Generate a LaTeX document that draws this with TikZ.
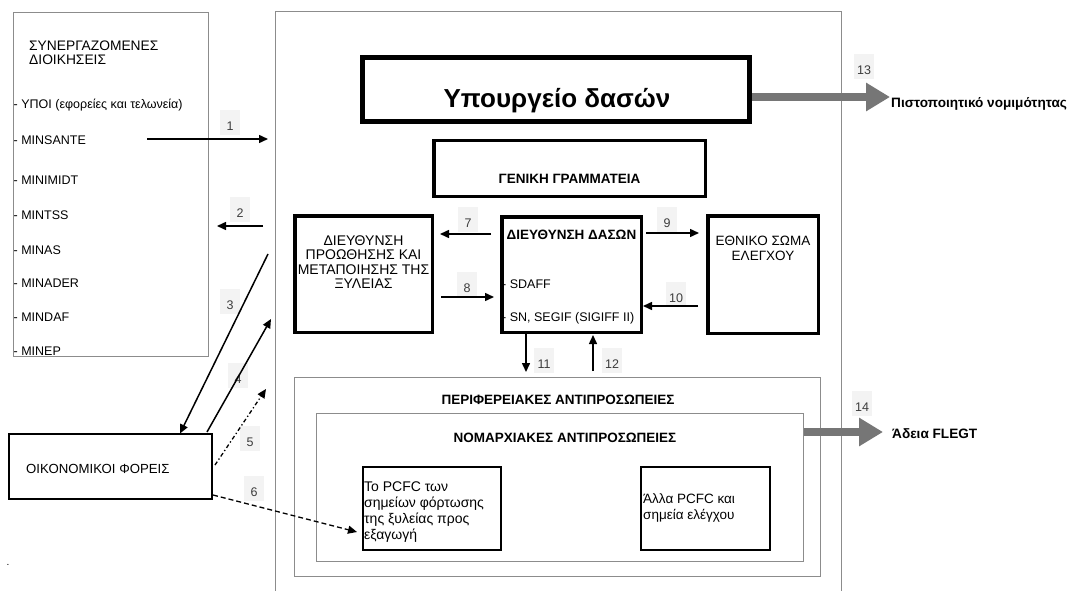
\documentclass[tikz,border=0pt]{standalone}
\usepackage{fontspec}
\setmainfont{Liberation Sans}
\usetikzlibrary{arrows.meta}
\definecolor{boxgray}{RGB}{140,140,140}
\definecolor{arrgray}{RGB}{118,118,118}
\definecolor{labgray}{RGB}{243,243,243}
\definecolor{numgray}{RGB}{60,60,60}
\begin{document}
\begin{tikzpicture}[x=1pt,y=-1pt,
  box/.style={rectangle, inner sep=0pt, outer sep=0pt},
  thinbox/.style={box, draw=boxgray, line width=1pt},
  heavybox/.style={box, draw=black, line width=3.5pt},
  plainbox/.style={box, draw=black, line width=1.8pt},
  conn/.style={draw=black, line width=1.5pt, -{Triangle[length=9pt,width=8pt]}},
  bigarrow/.style={draw=arrgray, line width=8pt, -{Triangle[length=24pt,width=27pt]}},
  numlab/.style={fill=labgray, text=numgray, font=\fontsize{12.5}{13}\selectfont, inner sep=1pt, minimum width=20pt, text height=20pt, text depth=3pt, anchor=base},
  txt/.style={inner sep=0pt, font=\fontsize{13.5}{14.3}\selectfont},
  btxt/.style={inner sep=0pt, font=\fontsize{13.5}{14.3}\selectfont\bfseries},
  lst/.style={inner sep=0pt, anchor=base west, font=\fontsize{12.5}{13}\selectfont},
]
\useasboundingbox (0,0) rectangle (1071,591);
\fill[white] (0,0) rectangle (1071,591);

% boxes
\node[thinbox, minimum width=195pt, minimum height=344pt] (left) at (111,184.5) {};
\node[thinbox, minimum width=566pt, minimum height=583pt] (big) at (558.5,303) {};
\node[box, draw=black, line width=5pt, minimum width=387pt, minimum height=64pt] (ypo) at (556,89.5) {};
\node[heavybox, minimum width=271.5pt, minimum height=55.5pt] (gen) at (569.5,168.5) {};
\node[heavybox, minimum width=137.5pt, minimum height=116.5pt] (dpr) at (363.5,274) {};
\node[heavybox, minimum width=139.5pt, minimum height=115.5pt] (dda) at (571.5,274.5) {};
\node[heavybox, minimum width=110.5pt, minimum height=117.5pt] (eth) at (763,274.5) {};
\node[thinbox, minimum width=526pt, minimum height=199pt] (per) at (557.5,477) {};
\node[thinbox, minimum width=487pt, minimum height=148pt] (nom) at (560,487.5) {};
\node[plainbox, minimum width=138.2pt, minimum height=83.2pt] (pcfc) at (432,508.5) {};
\node[plainbox, minimum width=129.2pt, minimum height=83.2pt] (alla) at (705.5,508.5) {};
\node[plainbox, minimum width=203.2pt, minimum height=65.2pt] (oik) at (110.5,466.5) {};

% texts in left box
\node[lst, font=\fontsize{13.8}{14}\selectfont] (h1) at (29,51) {ΣΥΝΕΡΓΑΖΟΜΕΝΕΣ};
\node[lst, font=\fontsize{13.8}{14}\selectfont] (h2) at (29,65) {ΔΙΟΙΚΗΣΕΙΣ};
\node[lst] (l1) at (13.5,109) {- ΥΠΟΙ (εφορείες και τελωνεία)};
\node[lst] (l2) at (13.5,144.5) {- MINSANTE};
\node[lst] (l3) at (13.5,185) {- MINIMIDT};
\node[lst] (l4) at (13.5,219.5) {- MINTSS};
\node[lst] (l5) at (13.5,254) {- MINAS};
\node[lst] (l6) at (13.5,287) {- MINADER};
\node[lst] (l7) at (13.5,321.5) {- MINDAF};
\node[lst] (l8) at (13.5,355) {- MINEP};

% texts in main boxes
\node[inner sep=0pt, anchor=base, font=\fontsize{26}{27}\selectfont\bfseries] (ypot) at (557,108) {Υπουργείο δασών};
\node[btxt, anchor=base] (gent) at (569.5,183) {ΓΕΝΙΚΗ ΓΡΑΜΜΑΤΕΙΑ};
\node[txt, align=center, font=\fontsize{14}{14.3}\selectfont] (dprt) at (363.5,262) {ΔΙΕΥΘΥΝΣΗ\\ΠΡΟΩΘΗΣΗΣ ΚΑΙ\\ΜΕΤΑΠΟΙΗΣΗΣ ΤΗΣ\\ΞΥΛΕΙΑΣ};
\node[btxt, anchor=base] (ddat) at (571.5,239) {ΔΙΕΥΘΥΝΣΗ ΔΑΣΩΝ};
\node[lst] (dd1) at (502,288.5) {- SDAFF};
\node[lst] (dd2) at (502,321.5) {- SN, SEGIF (SIGIFF II)};
\node[txt, align=center] (etht) at (763,248.5) {ΕΘΝΙΚΟ ΣΩΜΑ\\ΕΛΕΓΧΟΥ};
\node[btxt, anchor=base] (pert) at (558,404.5) {ΠΕΡΙΦΕΡΕΙΑΚΕΣ ΑΝΤΙΠΡΟΣΩΠΕΙΕΣ};
\node[btxt, anchor=base] (nomt) at (565,442.5) {ΝΟΜΑΡΧΙΑΚΕΣ ΑΝΤΙΠΡΟΣΩΠΕΙΕΣ};
\node[inner sep=0pt, anchor=north west, align=left, font=\fontsize{14}{15.7}\selectfont] (pcfct) at (364,482) {Το PCFC των\\σημείων φόρτωσης\\της ξυλείας προς\\εξαγωγή};
\node[inner sep=0pt, anchor=north west, align=left, font=\fontsize{13.5}{15.2}\selectfont] (allat) at (643,494) {Άλλα PCFC και\\σημεία ελέγχου};
\node[txt, anchor=base west, font=\fontsize{13.2}{14}\selectfont] (oikt) at (26,473) {ΟΙΚΟΝΟΜΙΚΟΙ ΦΟΡΕΙΣ};
\node[inner sep=0pt, font=\fontsize{10}{10}\selectfont] (dot) at (8,565) {.};

% outputs
\node[btxt, anchor=base west, font=\fontsize{13.6}{14}\selectfont\bfseries] (cert) at (891,108) {Πιστοποιητικό νομιμότητας};
\node[btxt, anchor=base west, font=\fontsize{13.6}{14}\selectfont\bfseries] (flegt) at (892,438.5) {Άδεια FLEGT};

% coordinates for connector ends
\coordinate (a1s) at (147,139);  \coordinate (a1e) at (268,139);
\coordinate (a2s) at (263,226);  \coordinate (a2e) at (217,226);
\coordinate (a3s) at (268,254);  \coordinate (a3e) at (180,433.5);
\coordinate (a4s) at (207,432);  \coordinate (a4e) at (271,319);
\coordinate (a5s) at (215,465);  \coordinate (a5e) at (266,389);
\coordinate (a6s) at (213,495);  \coordinate (a6e) at (357,532);
\coordinate (a7s) at (491,234);  \coordinate (a7e) at (440,234);
\coordinate (a8s) at (441,297);  \coordinate (a8e) at (494,297);
\coordinate (a9s) at (646,233);  \coordinate (a9e) at (699,233);
\coordinate (a10s) at (698,306); \coordinate (a10e) at (643,306);
\coordinate (a11s) at (526,334); \coordinate (a11e) at (526,372);
\coordinate (a12s) at (593,371); \coordinate (a12e) at (593,335);
\coordinate (a13s) at (752,97);  \coordinate (a13e) at (890,97);
\coordinate (a14s) at (804,432); \coordinate (a14e) at (883,432);

% number labels (drawn first so arrows sit on top)
\node[numlab] (n1) at (230,131) {1};
\node[numlab] (n2) at (240,217.5) {2};
\node[numlab] (n3) at (230,309.5) {3};
\node[numlab] (n4) at (238,383.5) {4};
\node[numlab] (n5) at (250,446.5) {5};
\node[numlab] (n6) at (254,496.5) {6};
\node[numlab] (n7) at (468,227.5) {7};
\node[numlab] (n8) at (467,292.5) {8};
\node[numlab] (n9) at (667,227.5) {9};
\node[numlab] (n10) at (676,302.5) {10};
\node[numlab] (n11) at (544,368.5) {11};
\node[numlab] (n12) at (612,368.5) {12};
\node[numlab] (n13) at (864,75) {13};
\node[numlab] (n14) at (862,411.5) {14};

% connectors
\draw[conn] (a1s) -- (a1e);
\draw[conn] (a2s) -- (a2e);
\draw[conn] (a3s) -- (a3e);
\draw[conn] (a4s) -- (a4e);
\draw[conn, line width=1.3pt, dash pattern=on 4pt off 2.5pt on 1.3pt off 2.5pt] (a5s) -- (a5e);
\draw[conn, line width=1.3pt, dash pattern=on 5pt off 3pt] (a6s) -- (a6e);
\draw[conn] (a7s) -- (a7e);
\draw[conn] (a8s) -- (a8e);
\draw[conn] (a9s) -- (a9e);
\draw[conn] (a10s) -- (a10e);
\draw[conn] (a11s) -- (a11e);
\draw[conn] (a12s) -- (a12e);
\draw[bigarrow] (a13s) -- (a13e);
\draw[bigarrow] (a14s) -- (a14e);
\end{tikzpicture}
\end{document}
